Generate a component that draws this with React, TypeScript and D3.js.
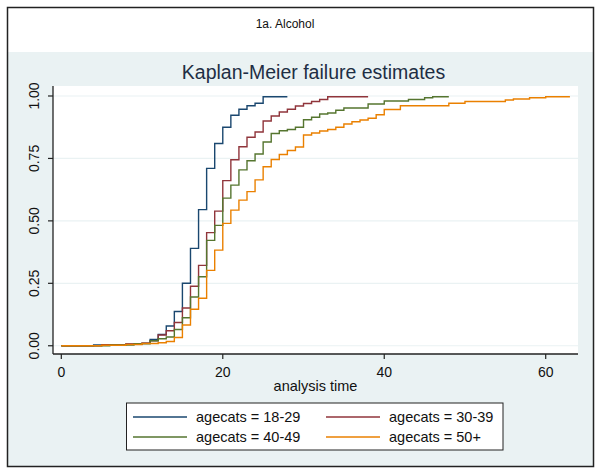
import React from 'react';
import * as d3 from 'd3';

// Kaplan-Meier failure estimates, by age group (step times and cumulative failure)
const timesA = [0, 4, 8, 10, 11, 12, 13, 14, 15, 16, 17, 18, 19, 20, 21, 22, 23, 24, 25, 28];
const failA = [0, 0.003, 0.006, 0.01, 0.025, 0.045, 0.079, 0.137, 0.25, 0.39, 0.545, 0.71, 0.81, 0.875, 0.923, 0.947, 0.961, 0.971, 0.997, 0.997];

const timesB = [0, 5, 8, 10, 11, 12, 13, 14, 15, 16, 17, 18, 19, 20, 21, 22, 23, 24, 25, 26, 27, 28, 29, 30, 31, 32, 33, 38];
const failB = [0, 0.004, 0.007, 0.01, 0.02, 0.043, 0.06, 0.093, 0.151, 0.238, 0.322, 0.453, 0.539, 0.661, 0.745, 0.797, 0.835, 0.856, 0.9, 0.92, 0.936, 0.947, 0.96, 0.97, 0.978, 0.986, 0.997, 0.997];

const timesC = [0, 6, 9, 11, 12, 13, 14, 15, 16, 17, 18, 19, 20, 21, 22, 23, 24, 25, 26, 27, 28, 29, 30, 31, 32, 33, 34, 35, 38, 40, 43, 45, 46, 48];
const failC = [0, 0.003, 0.008, 0.02, 0.028, 0.035, 0.065, 0.112, 0.195, 0.276, 0.422, 0.482, 0.591, 0.643, 0.704, 0.741, 0.768, 0.816, 0.85, 0.861, 0.866, 0.875, 0.905, 0.915, 0.928, 0.932, 0.943, 0.952, 0.968, 0.98, 0.986, 0.993, 0.997, 0.997];

const timesD = [0, 5, 8, 10, 12, 13, 14, 15, 16, 17, 18, 19, 20, 21, 22, 23, 24, 25, 26, 27, 28, 29, 30, 31, 32, 33, 34, 35, 36, 37, 38, 39, 40, 42, 48, 50, 55, 56, 58, 60, 63];
const failD = [0, 0.002, 0.005, 0.009, 0.012, 0.017, 0.033, 0.083, 0.146, 0.19, 0.302, 0.383, 0.49, 0.543, 0.583, 0.617, 0.664, 0.717, 0.746, 0.766, 0.782, 0.796, 0.844, 0.852, 0.86, 0.866, 0.875, 0.888, 0.897, 0.904, 0.911, 0.925, 0.946, 0.961, 0.971, 0.978, 0.984, 0.988, 0.993, 0.997, 0.997];

const groupLabels = ['agecats = 18-29', 'agecats = 30-39', 'agecats = 40-49', 'agecats = 50+'];
const groupColors = ['#1a476f', '#90353b', '#55752f', '#ea8000'];
const xTicks = [0, 20, 40, 60];
const yTicks = [0, 0.25, 0.5, 0.75, 1];

const W = 601;
const H = 473;
const plot = { left: 53, right: 578, top: 86, bottom: 354 };
const font = '"Liberation Sans", Arial, sans-serif';

export default function App() {
  const x = d3.scaleLinear().domain([-1.03, 64]).range([plot.left, plot.right]);
  const y = d3.scaleLinear().domain([-0.033, 1.04]).range([plot.bottom, plot.top]);

  const series = [
    { t: timesA, v: failA },
    { t: timesB, v: failB },
    { t: timesC, v: failC },
    { t: timesD, v: failD },
  ];

  const line = d3
    .line<[number, number]>()
    .x(d => x(d[0]))
    .y(d => y(d[1]))
    .curve(d3.curveStepAfter);

  const midX = (plot.left + plot.right) / 2;

  // legend placement
  const legend = { left: 126.5, top: 403, width: 376.5, height: 47 };
  const legCols = [133, 326];
  const legRows = [417, 437];

  return (
    <svg width={W} height={H} style={{ position: 'absolute', left: 0, top: 0, fontFamily: font }}>
      <rect x={0} y={0} width={W} height={H} fill="#fff" />
      <rect x={8} y={52} width={585} height={414} fill="#eaf2f3" />
      <rect x={7.5} y={7.5} width={586} height={459} fill="none" stroke="#222" strokeWidth={1.5} />
      <text x={285} y={28} textAnchor="middle" fontSize={12} fill="#111">
        1a. Alcohol
      </text>
      <text x={midX - 2} y={79} textAnchor="middle" fontSize={19.5} fill="#1e2e44">
        Kaplan-Meier failure estimates
      </text>

      <rect x={plot.left} y={plot.top} width={plot.right - plot.left} height={plot.bottom - plot.top} fill="#fff" />
      {yTicks.map(t => (
        <line key={'g' + t} x1={plot.left} x2={plot.right} y1={y(t)} y2={y(t)} stroke="#eaf2f3" strokeWidth={1.2} />
      ))}

      {series.map((s, i) => (
        <path
          key={i}
          d={line(s.t.map((t, j) => [t, s.v[j]] as [number, number])) || ''}
          fill="none"
          stroke={groupColors[i]}
          strokeWidth={1.4}
        />
      ))}

      {/* axes */}
      <line x1={plot.left} x2={plot.left} y1={plot.top} y2={plot.bottom} stroke="#222" strokeWidth={1.3} />
      <line x1={plot.left} x2={plot.right} y1={plot.bottom} y2={plot.bottom} stroke="#222" strokeWidth={1.3} />
      {yTicks.map(t => (
        <g key={'y' + t}>
          <line x1={plot.left - 5} x2={plot.left} y1={y(t)} y2={y(t)} stroke="#222" strokeWidth={1.2} />
          <text
            transform={`translate(${plot.left - 14},${y(t)}) rotate(-90)`}
            textAnchor="middle"
            fontSize={14}
            fill="#111"
          >
            {d3.format('.2f')(t)}
          </text>
        </g>
      ))}
      {xTicks.map(t => (
        <g key={'x' + t}>
          <line x1={x(t)} x2={x(t)} y1={plot.bottom} y2={plot.bottom + 5} stroke="#222" strokeWidth={1.2} />
          <text x={x(t)} y={plot.bottom + 23} textAnchor="middle" fontSize={14} fill="#111">
            {t}
          </text>
        </g>
      ))}
      <text x={midX} y={plot.bottom + 37} textAnchor="middle" fontSize={14.5} fill="#111">
        analysis time
      </text>

      {/* legend */}
      <rect x={legend.left} y={legend.top} width={legend.width} height={legend.height} fill="#fff" stroke="#222" strokeWidth={1} />
      {groupLabels.map((lab, i) => {
        const cx = legCols[i % 2];
        const cy = legRows[Math.floor(i / 2)];
        return (
          <g key={lab}>
            <line x1={cx} x2={cx + 54} y1={cy} y2={cy} stroke={groupColors[i]} strokeWidth={1.4} />
            <text x={cx + 63} y={cy + 5} fontSize={14.5} fill="#111">
              {lab}
            </text>
          </g>
        );
      })}
    </svg>
  );
}
